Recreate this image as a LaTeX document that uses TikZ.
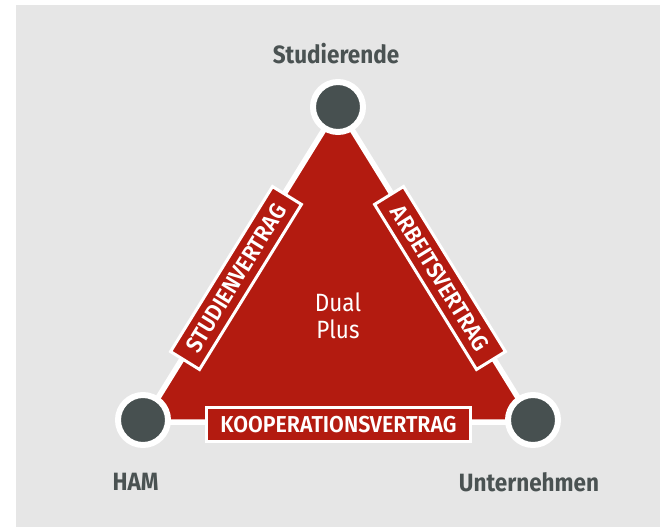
\documentclass[tikz,border=0pt]{standalone}
\usepackage{fontspec}
\setmainfont{Fira Sans}
\newfontfamily\lblfont[FakeStretch=0.9]{Fira Sans Bold}
\newfontfamily\boxfont[FakeStretch=0.93]{Fira Sans SemiBold}
\newfontfamily\centerfont[FakeStretch=0.9]{Fira Sans}
\definecolor{bggray}{HTML}{E6E6E6}
\definecolor{hamred}{HTML}{B31B10}
\definecolor{dotgray}{HTML}{475050}
\definecolor{txtgray}{HTML}{4A5252}
\tikzset{
  party/.style={circle, fill=dotgray, draw=white, line width=6pt, minimum size=50pt, inner sep=0pt},
  partylabel/.style={anchor=base, text=txtgray, font=\lblfont\fontsize{25}{30}\selectfont, inner sep=0pt},
  contract/.style={fill=hamred, draw=white, line width=3pt, minimum height=34pt, inner sep=0pt, text=white, font=\boxfont\fontsize{23}{28}\selectfont},
  centertext/.style={anchor=base, text=white, font=\centerfont\fontsize{25}{30}\selectfont, inner sep=0pt}
}
\begin{document}
\begin{tikzpicture}[x=1pt,y=-1pt]
\useasboundingbox (0,0) rectangle (660,527);
\fill[white] (0,0) rectangle (660,527);
\fill[bggray] (16,5) rectangle (660,527);
\coordinate (vt) at (338,107);
\coordinate (vl) at (143,422);
\coordinate (vr) at (533,422);
\filldraw[fill=hamred, draw=white, line width=5.5pt, line join=miter] (vt) -- (vl) -- (vr) -- cycle;
\node[party] (stud) at (338,107) {};
\node[party] (ham) at (143,420) {};
\node[party] (unt) at (533,420) {};
\node[contract, minimum width=194pt, rotate=58.3] (sv) at (236,278) {STUDIENVERTRAG};
\node[contract, minimum width=194pt, rotate=-58.3] (av) at (440,278) {ARBEITSVERTRAG};
\node[contract, minimum width=264pt] (kv) at (338.5,424.5) {KOOPERATIONSVERTRAG};
\node[partylabel] (lstud) at (336,63.5) {Studierende};
\node[partylabel] (lham) at (135.5,490.5) {HAM};
\node[partylabel] (lunt) at (529,491) {Unternehmen};
\node[centertext] (dual) at (338,311.7) {Dual};
\node[centertext] (plus) at (338,338) {Plus};
\end{tikzpicture}
\end{document}
